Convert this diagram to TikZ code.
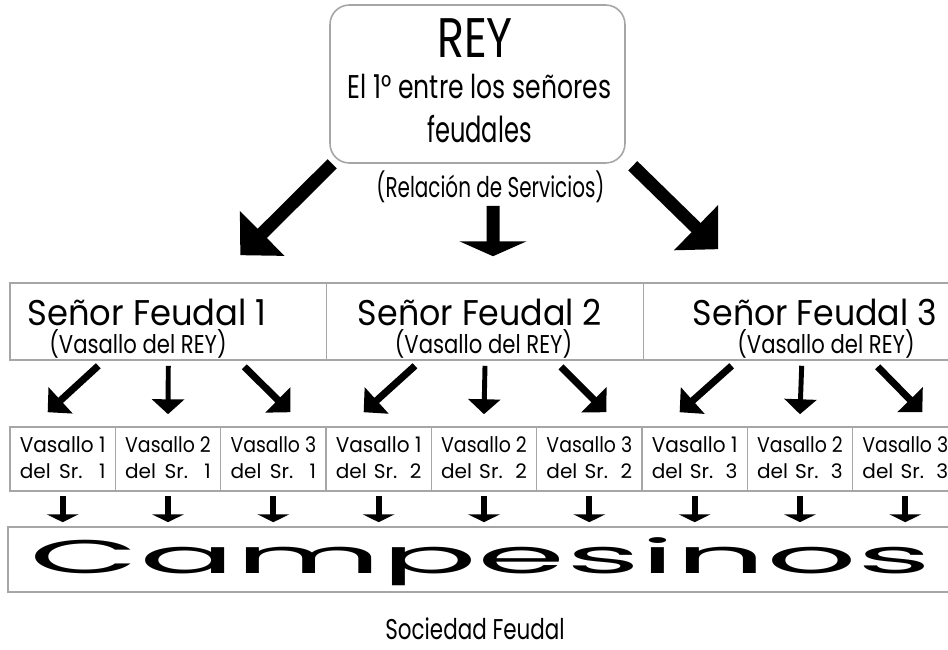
\documentclass[tikz,border=0pt]{standalone}
\usepackage{fontspec}
\setmainfont{Poppins}
\usetikzlibrary{arrows.meta, positioning}

\newdimen\px \px=0.5669pt
\newlength\vwid
% text squeezed to a given width and cap height (in px)
\newcommand{\fitcap}[3]{\resizebox{#1\px}{#2\px}{\vphantom{H}\smash{#3}}}

\begin{document}
\settowidth{\vwid}{Vasallo 1}
\begin{tikzpicture}[x=0.02cm, y=-0.02cm,
  box/.style={draw=gray!70, line width=0.9pt, inner sep=0pt},
  lbl/.style={inner sep=0pt, anchor=base},
  bigarrow/.style={line width=7.4pt, -{Triangle[width=35pt,length=17.6pt]}},
  midarrow/.style={line width=7.4pt, -{Triangle[width=38pt,length=8.5pt]}},
  diagarrow/.style={line width=4pt, -{Triangle[width=19.8pt,length=10pt]}},
  downarrow/.style={line width=2.8pt, -{Triangle[width=18.1pt,length=8.5pt]}},
  lowarrow/.style={line width=3.4pt, -{Triangle[width=18.1pt,length=4.5pt]},
    shorten <=2.3pt, shorten >=2.3pt}]
\useasboundingbox (0,0) rectangle (948,650);

% rey
\node[box, rounded corners=11pt, minimum width=5.9cm, minimum height=3.16cm] (rey) at (477.5,84) {};
\node[lbl] (reyt) at (475,57) {\fitcap{76}{39}{REY}};
\node[lbl] (reyl2) at (479.5,98) {\fitcap{265}{23}{El 1° entre los señores}};
\node[lbl] (reyl3) at (479.5,142) {\fitcap{105}{25}{feudales}};
\node[lbl] (rel) at (490.5,197) {\fitcap{229}{20}{(Relación de Servicios)}};

% senores feudales
\node[box, minimum width=6.333cm, minimum height=1.54cm] (sf1) at (168.3,321.5) {};
\node[box, minimum width=6.333cm, minimum height=1.54cm] (sf2) at (485,321.5) {};
\node[box, minimum width=6.333cm, minimum height=1.54cm] (sf3) at (801.7,321.5) {};
\node[lbl] (sf1t) at (147,325) {\fitcap{240}{25}{Señor Feudal 1}};
\node[lbl] (sf1v) at (138,353) {\fitcap{178}{18}{(Vasallo del REY)}};
\node[lbl] (sf2t) at (480,325) {\fitcap{245}{25}{Señor Feudal 2}};
\node[lbl] (sf2v) at (483.5,353) {\fitcap{178}{18}{(Vasallo del REY)}};
\node[lbl] (sf3t) at (815,325) {\fitcap{245}{25}{Señor Feudal 3}};
\node[lbl] (sf3v) at (826,353) {\fitcap{178}{18}{(Vasallo del REY)}};

\draw[bigarrow] ([shift={(3,0)}]rey.south west) -- ([shift={(72,-27)}]sf1.north);
\draw[midarrow] ([shift={(15.5,42)}]rey.south) -- ([shift={(8,-26)}]sf2.north);
\draw[bigarrow] ([shift={(7,2)}]rey.south east) -- ([shift={(-83.5,-33)}]sf3.north);

% campesinos
\node[box, minimum width=19.04cm, minimum height=1.3cm] (camp) at (484,559.5) {};
\node[lbl] (campt) at (480.5,573) {\fitcap{905}{33}{Campesinos}};

% vasallos
\foreach \s in {1,2,3} {
  \foreach \v in {1,2,3} {
    \pgfmathsetmacro\cx{10+105.33*(3*(\s-1)+\v-1)+52.67}
    \node[box, minimum width=2.1066cm, minimum height=1.28cm] (v\s\v) at (\cx,459) {};
    \node[lbl] (v\s\v a) at (\cx,452) {\fitcap{86}{15}{Vasallo \v}};
    \node[lbl] (v\s\v b) at (\cx,478) {\fitcap{86}{14}{\makebox[\vwid][s]{del Sr. \s}}};
    \draw[lowarrow] (v\s\v.south) -- (v\s\v.south |- camp.north);
  }
  \draw[diagarrow] ([shift={(-70,5)}]sf\s.south) -- ([shift={(-15,-14)}]v\s1.north);
  \draw[downarrow] ([shift={(0,5)}]sf\s.south) -- ([shift={(0,-12)}]v\s2.north);
  \draw[diagarrow] ([shift={(76,6)}]sf\s.south) -- ([shift={(17,-14)}]v\s3.north);
}

\node[lbl] (soc) at (475,639) {\fitcap{180}{20}{Sociedad Feudal}};
\end{tikzpicture}
\end{document}
